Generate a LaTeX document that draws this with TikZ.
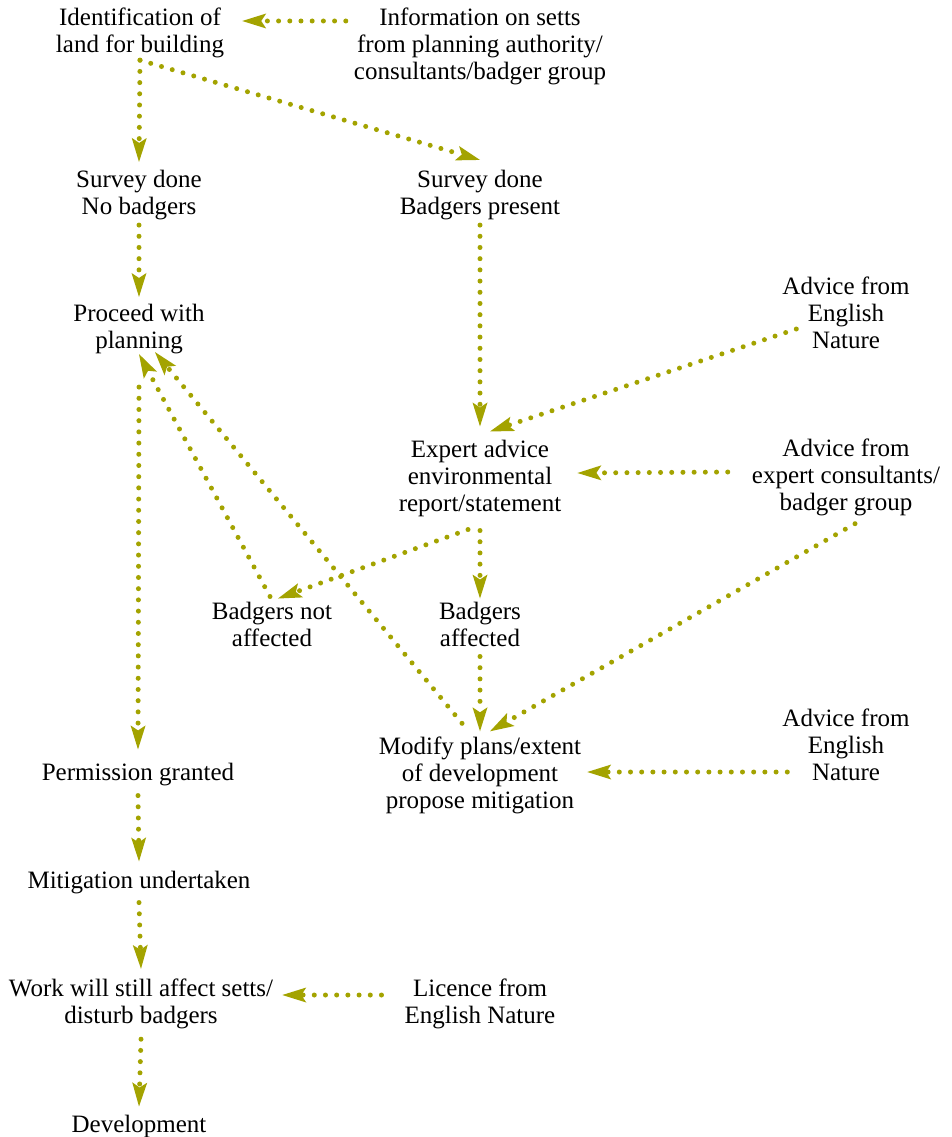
\documentclass[tikz,border=0pt]{standalone}
\usepackage{fontspec}
\setmainfont{Liberation Serif}
\usetikzlibrary{arrows.meta}
\definecolor{setts}{RGB}{163,163,0}

\begin{document}
\begin{tikzpicture}[
    x=1pt, y=-1pt,
    stage/.style={align=center, inner sep=0pt, font=\fontsize{25}{27}\selectfont},
    flow/.style={draw=setts, line width=5pt, line cap=round,
      dash pattern=on 0pt off 11.2pt,
      >={Stealth[length=24pt, width=15pt, inset=5pt, line width=0pt]}},
    post/.style={flow, ->}
  ]
  \useasboundingbox (0,0) rectangle (952,1137);

  % left column
  \node[stage] (ident) at (140,33) {Identification of\\land for building};
  \node[stage] (survey1) at (139,195) {Survey done\\No badgers};
  \node[stage] (proceed) at (139,329) {Proceed with\\planning};
  \node[stage] (perm) at (138,775) {Permission granted};
  \node[stage] (mitig) at (139,883) {Mitigation undertaken};
  \node[stage] (work) at (141,1004) {Work will still affect setts/\\disturb badgers};
  \node[stage] (dev) at (139,1126) {Development};

  % middle column
  \node[stage] (info) at (480,46) {Information on setts\\from planning authority/\\consultants/badger group};
  \node[stage] (survey2) at (480,195) {Survey done\\Badgers present};
  \node[stage] (expert) at (480,478) {Expert advice\\environmental\\report/statement};
  \node[stage] (notaff) at (272,624) {Badgers not\\affected};
  \node[stage] (aff) at (480,624) {Badgers\\affected};
  \node[stage] (modify) at (480,775) {Modify plans/extent\\of development\\propose mitigation};
  \node[stage] (licence) at (480,1004) {Licence from\\English Nature};

  % advice
  \node[stage] (adv1) at (846,313) {Advice from\\English\\Nature};
  \node[stage] (adv2) at (846,477) {Advice from\\expert consultants/\\badger group};
  \node[stage] (adv3) at (846,745) {Advice from\\English\\Nature};

  \draw[post] ([xshift=-8pt,yshift=25pt]info.west) -- ([xshift=18pt,yshift=12pt]ident.east);
  \draw[post] ([yshift=-2pt]ident.south) -- ([yshift=8pt]survey1.north);
  \draw[post] ([yshift=-2pt]ident.south) -- ([yshift=10pt]survey2.north);
  \draw[post] ([yshift=-5pt]survey1.south) -- ([yshift=7pt]proceed.north);
  \draw[post] ([yshift=-5pt]survey2.south) -- ([yshift=13pt]expert.north);
  \draw[post] ([xshift=14pt,yshift=-16pt]adv1.west) -- ([xshift=10pt,yshift=8pt]expert.north);
  \draw[post] ([xshift=-24pt,yshift=5pt]adv2.west) -- ([xshift=16pt,yshift=5pt]expert.east);
  \draw[post] ([xshift=-12pt,yshift=-13pt]expert.south) -- ([xshift=6pt,yshift=3pt]notaff.north);
  \draw[post] ([yshift=-14pt]expert.south) -- ([yshift=3pt]aff.north);
  \draw[post] ([xshift=-2pt,yshift=5pt]notaff.north) -- (proceed.south);
  \draw[post] ([xshift=-18pt,yshift=13pt]modify.north) -- ([xshift=16pt,yshift=2pt]proceed.south);
  \draw[post] ([yshift=-10pt]aff.south) -- ([yshift=5pt]modify.north);
  \draw[post] ([xshift=9pt,yshift=-8pt]adv2.south) -- ([xshift=10pt,yshift=5pt]modify.north);
  \draw[post] ([xshift=5pt,yshift=-27pt]adv3.west) -- ([xshift=6pt,yshift=3pt]modify.east);
  \draw[post] ([yshift=-33pt]proceed.south) -- ([yshift=14pt]perm.north);
  \draw[post] ([yshift=-9pt]perm.south) -- ([yshift=10pt]mitig.north);
  \draw[post] ([yshift=-8pt]mitig.south) -- ([yshift=10pt]work.north);
  \draw[post] ([xshift=-23pt,yshift=9pt]licence.west) -- ([xshift=9pt,yshift=9pt]work.east);
  \draw[post] ([yshift=-10pt]work.south) -- ([yshift=8pt]dev.north);
\end{tikzpicture}
\end{document}
